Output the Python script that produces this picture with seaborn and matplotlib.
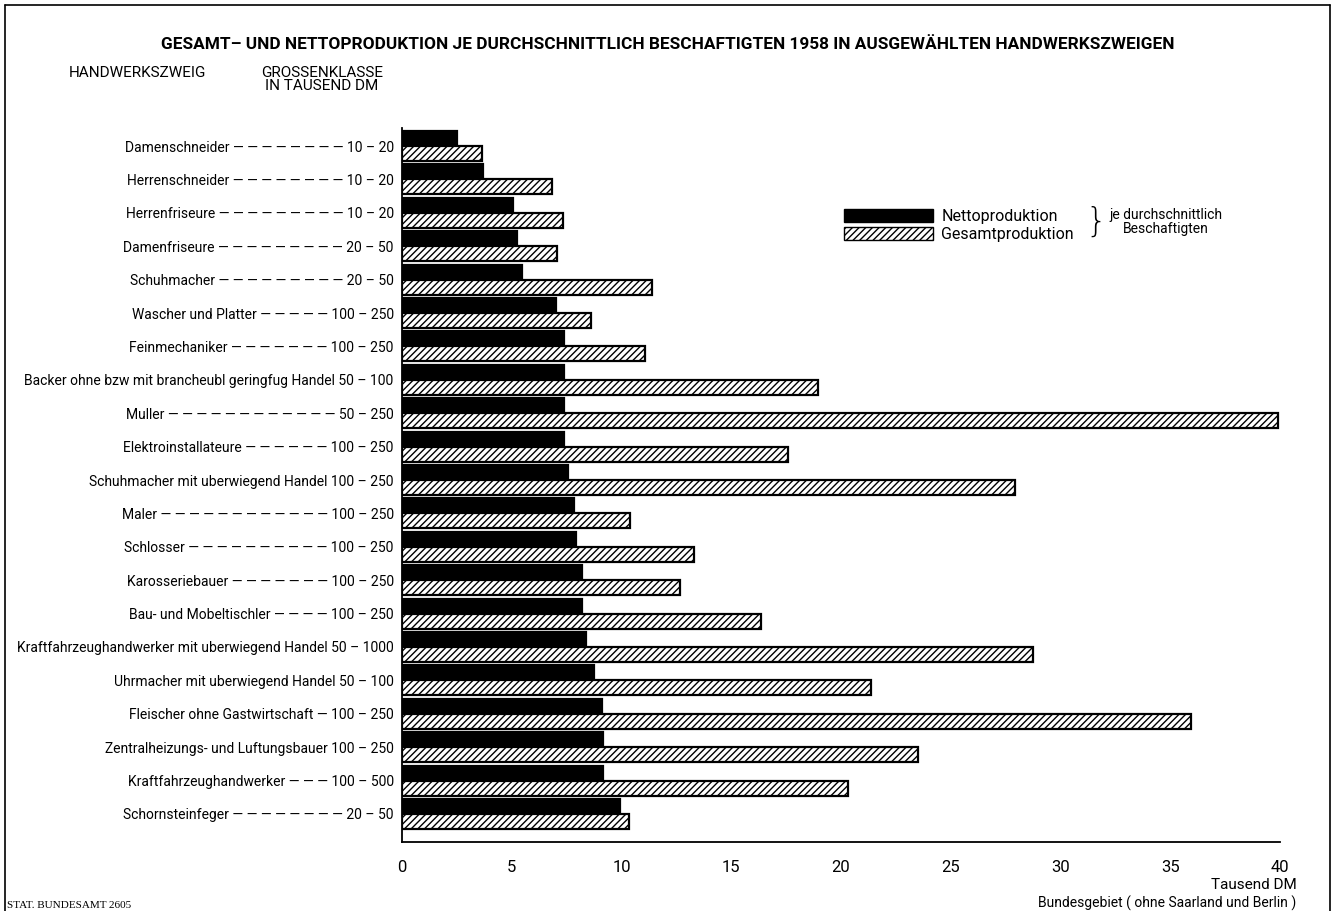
import matplotlib
matplotlib.use("Agg")
import matplotlib.pyplot as plt
import pandas as pd
import seaborn as sns
from matplotlib.lines import Line2D
from matplotlib.patches import Patch

# Daten
zweige = [
    "Damenschneider", "Herrenschneider", "Herrenfriseure", "Damenfriseure",
    "Schuhmacher", "Wascher und Platter", "Feinmechaniker",
    "Backer ohne bzw mit brancheubl geringfug Handel", "Muller",
    "Elektroinstallateure", "Schuhmacher mit uberwiegend Handel", "Maler",
    "Schlosser", "Karosseriebauer", "Bau- und Mobeltischler",
    "Kraftfahrzeughandwerker mit uberwiegend Handel",
    "Uhrmacher mit uberwiegend Handel", "Fleischer ohne Gastwirtschaft",
    "Zentralheizungs- und Luftungsbauer", "Kraftfahrzeughandwerker",
    "Schornsteinfeger",
]
groessenklassen = [
    "10 – 20", "10 – 20", "10 – 20", "20 – 50", "20 – 50", "100 – 250",
    "100 – 250", "50 – 100", "50 – 250", "100 – 250", "100 – 250",
    "100 – 250", "100 – 250", "100 – 250", "100 – 250", "50 – 1000",
    "50 – 100", "100 – 250", "100 – 250", "100 – 500", "20 – 50",
]
netto = [2.5, 3.7, 5.05, 5.25, 5.45, 7.0, 7.4, 7.4, 7.4, 7.4, 7.55,
         7.85, 7.95, 8.2, 8.2, 8.4, 8.75, 9.1, 9.15, 9.15, 9.95]
gesamt = [3.65, 6.85, 7.35, 7.05, 11.4, 8.6, 11.05, 18.95, 39.9, 17.6, 27.95,
          10.4, 13.3, 12.65, 16.35, 28.75, 21.35, 35.95, 23.5, 20.3, 10.35]
x_ticks = [0, 5, 10, 15, 20, 25, 30, 35, 40]

sns.set_style("white")
schrift = ["Roboto", "DejaVu Sans"]
plt.rcParams["font.family"] = schrift
plt.rcParams["hatch.linewidth"] = 1.0
plt.rcParams["text.color"] = "black"

df = pd.DataFrame({
    "zweig": zweige * 2,
    "wert": netto + gesamt,
    "art": ["Nettoproduktion"] * len(zweige) + ["Gesamtproduktion"] * len(zweige),
})

fig = plt.figure(figsize=(13.35, 9.11), dpi=100)
ax = fig.add_axes([0.3011, 0.0757, 0.6577, 0.7838])

sns.barplot(data=df, y="zweig", x="wert", hue="art", orient="h",
            palette=["black", "white"], edgecolor="black", linewidth=1.6,
            width=0.9, legend=False, ax=ax)
for bar in ax.containers[1]:
    bar.set_hatch("/////")

ax.set_xlim(0, 40)
ax.set_ylim(20.84, -0.54)
ax.set_xticks(x_ticks)
ax.set_xticklabels([str(t) for t in x_ticks], fontsize=12, color="black")
ax.tick_params(axis="x", direction="inout", length=12, width=1, pad=7)
ax.tick_params(axis="y", length=0, pad=6)
ax.set_xlabel("")
ax.set_ylabel("")
for s in ["top", "right"]:
    ax.spines[s].set_visible(False)
for s in ["left", "bottom"]:
    ax.spines[s].set_linewidth(1.3)
    ax.spines[s].set_color("black")

# Beschriftung mit Fuehrungsstrichen
renderer = fig.canvas.get_renderer()
ziel = 262
groesse = 10


def breite(txt):
    t = fig.text(0, 0, txt, fontsize=groesse)
    w = t.get_window_extent(renderer).width
    t.remove()
    return w


beschriftung = []
for name, gk in zip(zweige, groessenklassen):
    fuehrung = ""
    while breite(name + " " + fuehrung + " " + gk) < ziel:
        fuehrung += "— "
    if fuehrung:
        beschriftung.append(name + " " + fuehrung.strip() + " " + gk)
    else:
        beschriftung.append(name + " " + gk)
ax.set_yticks(range(len(zweige)))
ax.set_yticklabels(beschriftung, fontsize=groesse, color="black")

# Titel und Kopfzeilen
fig.text(0.5, 0.951, "GESAMT– UND NETTOPRODUKTION JE DURCHSCHNITTLICH BESCHAFTIGTEN 1958 "
         "IN AUSGEWÄHLTEN HANDWERKSZWEIGEN", ha="center", va="center",
         fontsize=12.4, fontweight="bold")
fig.text(0.103, 0.92, "HANDWERKSZWEIG", ha="center", va="center", fontsize=11)
fig.text(0.241, 0.913, "GROSSENKLASSE\nIN TAUSEND DM", ha="center", va="center",
         fontsize=11, linespacing=0.95)

# Legende
handles = [Patch(facecolor="black", edgecolor="black", label="Nettoproduktion"),
           Patch(facecolor="white", edgecolor="black", hatch="/////",
                 label="Gesamtproduktion")]
fig.legend(handles=handles, loc="upper left", bbox_to_anchor=(0.626, 0.779),
           frameon=False, fontsize=11.5, handlelength=5.6, handleheight=0.85,
           handletextpad=0.5, labelspacing=0.15, borderpad=0)
fig.text(0.821, 0.756, "}", ha="center", va="center", fontsize=24,
         family="DejaVu Sans", fontweight="light")
fig.text(0.873, 0.756, "je durchschnittlich\nBeschaftigten", ha="center",
         va="center", fontsize=10, linespacing=1.0)

# Fusszeilen
fig.text(0.971, 0.029, "Tausend DM", ha="right", va="center", fontsize=11)
fig.text(0.971, 0.008, "Bundesgebiet ( ohne Saarland und Berlin )", ha="right",
         va="center", fontsize=10)
fig.text(0.005, 0.006, "STAT. BUNDESAMT 2605", ha="left", va="center",
         fontsize=8, family=["Liberation Serif"])

# Rahmen
for xs, ys in [([0.004, 0.004], [0.0, 0.995]), ([0.004, 0.996], [0.995, 0.995]),
               ([0.996, 0.996], [0.0, 0.995])]:
    fig.add_artist(Line2D(xs, ys, color="black", linewidth=1.2,
                          transform=fig.transFigure))

fig.savefig("out.png", dpi=100)
